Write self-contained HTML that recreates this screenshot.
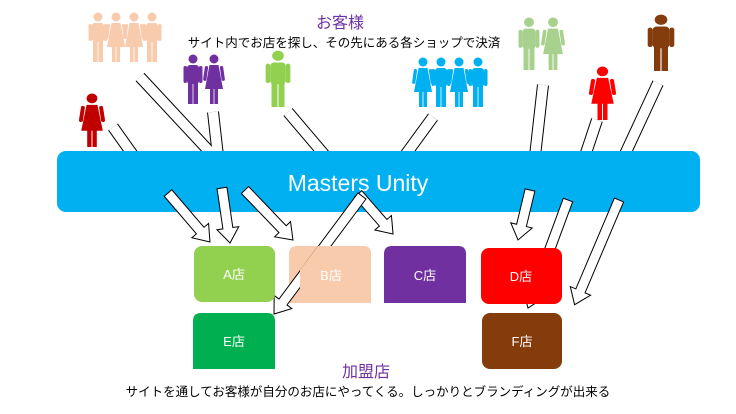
<!DOCTYPE html>
<html><head><meta charset="utf-8"><style>
body{margin:0;background:#fff;}
svg{display:block}
text{font-family:"Liberation Sans","Noto Sans CJK JP",sans-serif;}
</style></head><body>
<svg width="736" height="414" viewBox="0 0 736 414" xmlns="http://www.w3.org/2000/svg">
<defs>
<g id="man">
<circle cx="10" cy="5" r="4.5"/>
<rect x="4" y="11" width="12" height="19" rx="3"/>
<rect x="0.5" y="12" width="3.5" height="17" rx="1.7"/>
<rect x="16" y="12" width="3.5" height="17" rx="1.7"/>
<rect x="5" y="27" width="4.6" height="23"/>
<rect x="10.4" y="27" width="4.6" height="23"/>
</g>
<g id="woman">
<circle cx="10" cy="5" r="4.5"/>
<polygon points="5.5,11 14.5,11 19,35 1,35"/>
<rect x="1" y="12" width="3.3" height="15" rx="1.6" transform="rotate(8 2.6 12)"/>
<rect x="15.7" y="12" width="3.3" height="15" rx="1.6" transform="rotate(-8 17.4 12)"/>
<rect x="6" y="33" width="3.6" height="17"/>
<rect x="10.4" y="33" width="3.6" height="17"/>
</g>
<polygon id="ah" points="0,-5 -15,-5 -15,-11 0,0 -15,11 -15,5" />
</defs>

<!-- upper shafts (behind banner) -->
<g stroke-linecap="butt">
<g stroke="#000" stroke-width="12">
<line x1="113" y1="127" x2="140" y2="165"/>
<line x1="140" y1="77" x2="222" y2="165"/>
<line x1="213" y1="112" x2="219" y2="165"/>
<line x1="288" y1="112" x2="333" y2="165"/>
<line x1="433" y1="117" x2="398" y2="165"/>
<line x1="543" y1="85" x2="534" y2="165"/>
<line x1="597" y1="120" x2="582" y2="165"/>
<line x1="658" y1="83" x2="620" y2="165"/>
</g>
<g stroke="#fff" stroke-width="10">
<line x1="113" y1="127" x2="140" y2="165"/>
<line x1="140" y1="77" x2="222" y2="165"/>
<line x1="213" y1="112" x2="219" y2="165"/>
<line x1="288" y1="112" x2="333" y2="165"/>
<line x1="433" y1="117" x2="398" y2="165"/>
<line x1="543" y1="85" x2="534" y2="165"/>
<line x1="597" y1="120" x2="582" y2="165"/>
<line x1="658" y1="83" x2="620" y2="165"/>
</g>
</g>

<!-- people -->
<g fill="#F8CBAD">
<use href="#man" transform="translate(88,12)"/>
<use href="#woman" transform="translate(106,12)"/>
<use href="#woman" transform="translate(124,12)"/>
<use href="#man" transform="translate(142,12)"/>
</g>
<g fill="#7030A0">
<use href="#man" transform="translate(183,54)"/>
<use href="#woman" transform="translate(204,54)"/>
</g>
<g fill="#92D050"><use href="#man" transform="translate(265,50) scale(1.3,1.14)"/></g>
<g fill="#C00000"><use href="#woman" transform="translate(80,93) scale(1.2,1.08)"/></g>
<g fill="#00B0F0">
<use href="#woman" transform="translate(413,57)"/>
<use href="#man" transform="translate(431,57)"/>
<use href="#woman" transform="translate(449,57)"/>
<use href="#man" transform="translate(468,57)"/>
</g>
<g fill="#A9D18E">
<use href="#man" transform="translate(518,17) scale(1.1,1.06)"/>
<use href="#woman" transform="translate(542,17) scale(1.1,1.06)"/>
</g>
<g fill="#FF0000"><use href="#woman" transform="translate(590,66) scale(1.25,1.08)"/></g>
<g fill="#843C0C"><use href="#man" transform="translate(647,14) scale(1.4,1.14)"/></g>

<!-- banner -->
<rect x="57" y="151" width="643" height="61" rx="9" fill="#00B0F0"/>
<text x="358" y="191" font-size="23" fill="#fff" text-anchor="middle">Masters Unity</text>

<!-- boxes -->
<path d="M289,303 V254 Q289,246 297,246 H363 Q371,246 371,254 V303 Z" fill="#F8CBAD"/>

<!-- lower arrows -->
<g fill="#fff" stroke="#000" stroke-width="1">
<g transform="translate(168,193) rotate(49.4)"><polygon points="0,-5 49.5,-5 49.5,-11 64.5,0 49.5,11 49.5,5 0,5"/></g>
<g transform="translate(222,188) rotate(81.7)"><polygon points="0,-5 40.6,-5 40.6,-11 55.6,0 40.6,11 40.6,5 0,5"/></g>
<g transform="translate(245,190) rotate(46.2)"><polygon points="0,-5 54.3,-5 54.3,-11 69.3,0 54.3,11 54.3,5 0,5"/></g>
<g transform="translate(358,194) rotate(48.8)"><polygon points="0,-5 38.2,-5 38.2,-11 53.2,0 38.2,11 38.2,5 0,5"/></g>
<g transform="translate(362,196) rotate(126.7)"><polygon points="0,-5 132.2,-5 132.2,-11 147.2,0 132.2,11 132.2,5 0,5"/></g>
<g transform="translate(530,190) rotate(103.5)"><polygon points="0,-5 36.4,-5 36.4,-11 51.4,0 36.4,11 36.4,5 0,5"/></g>
<g transform="translate(568,200) rotate(110.3)"><polygon points="0,-5 100.2,-5 100.2,-11 115.2,0 100.2,11 100.2,5 0,5"/></g>
<g transform="translate(619,200) rotate(113)"><polygon points="0,-5 98.7,-5 98.7,-11 113.7,0 98.7,11 98.7,5 0,5"/></g>
</g>
<!-- B box covers part of E arrow -->
<path d="M300,303 H371 V254 Q371,246 363,246 H318 L300,270 Z" fill="#F8CBAD"/>

<rect x="194" y="246" width="81" height="56" rx="8" fill="#92D050"/>
<path d="M384,303 V254 Q384,246 392,246 H458 Q466,246 466,254 V303 Z" fill="#7030A0"/>
<rect x="481" y="248" width="81" height="56" rx="8" fill="#FF0000"/>
<path d="M193,369 V321 Q193,313 201,313 H267 Q275,313 275,321 V369 Z" fill="#00B050"/>
<rect x="482" y="313" width="80" height="56" rx="8" fill="#843C0C"/>
<g fill="#fff" font-size="13" text-anchor="middle">
<text x="234" y="279">A店</text>
<text x="331" y="280">B店</text>
<text x="425" y="280">C店</text>
<text x="521" y="281">D店</text>
<text x="234" y="346">E店</text>
<text x="522" y="346">F店</text>
</g>

<!-- texts -->
<text x="340" y="28" font-size="16" fill="#7030A0" text-anchor="middle">お客様</text>
<text x="344" y="47" font-size="12.5" fill="#000" text-anchor="middle">サイト内でお店を探し、その先にある各ショップで決済</text>
<text x="366" y="377" font-size="16" fill="#7030A0" text-anchor="middle">加盟店</text>
<text x="368" y="396" font-size="12.5" fill="#000" text-anchor="middle">サイトを通してお客様が自分のお店にやってくる。しっかりとブランディングが出来る</text>
</svg>
</body></html>
